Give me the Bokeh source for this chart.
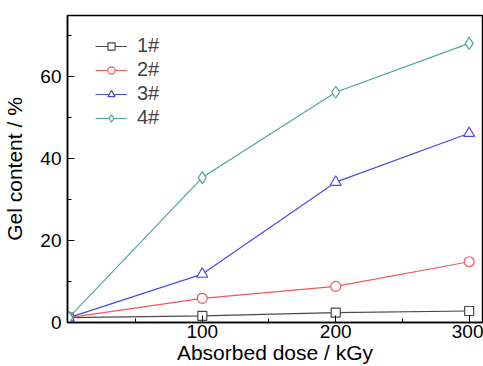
from bokeh.plotting import figure
from bokeh.embed import file_html
from bokeh.resources import INLINE
from bokeh.models import Range1d, FixedTicker, Legend, LegendItem

dose = [0, 100, 200, 300]
s1 = [1.2, 1.6, 2.4, 2.8]
s2 = [1.2, 5.9, 8.8, 14.8]
s3 = [1.2, 11.8, 34.2, 46.1]
s4 = [1.2, 35.3, 56.1, 68.0]
series_names = ["1#", "2#", "3#", "4#"]
x_ticks = [100, 200, 300]
y_ticks = [0, 20, 40, 60]

FONT = "Liberation Sans"

p = figure(width=483, height=366, output_backend="svg", toolbar_location=None,
           x_range=Range1d(-1, 310), y_range=Range1d(0, 74.8),
           min_border_left=67, min_border_right=1, min_border_top=15, min_border_bottom=44)
p.background_fill_color = "white"
p.border_fill_color = "white"
p.outline_line_color = "black"
p.outline_line_width = 1.5
p.grid.visible = False

for ax in (p.xaxis[0], p.yaxis[0]):
    ax.axis_line_color = "black"
    ax.axis_line_width = 1.5
    ax.major_tick_in = 7
    ax.major_tick_out = 0
    ax.minor_tick_in = 4
    ax.minor_tick_out = 0
    ax.major_tick_line_color = "black"
    ax.minor_tick_line_color = "black"
    ax.major_label_text_font = FONT
    ax.major_label_text_font_size = "19px"
    ax.major_label_text_color = "black"
    ax.axis_label_text_font = FONT
    ax.axis_label_text_font_size = "21px"
    ax.axis_label_text_font_style = "normal"
    ax.axis_label_text_color = "black"

p.xaxis.ticker = FixedTicker(ticks=x_ticks, minor_ticks=[50, 150, 250])
p.yaxis.ticker = FixedTicker(ticks=y_ticks, minor_ticks=[10, 30, 50, 70])
p.xaxis.axis_label = "Absorbed dose / kGy"
p.yaxis.axis_label = "Gel content / %"
p.xaxis.major_label_standoff = 2
p.xaxis.axis_label_standoff = 0
p.yaxis.major_label_standoff = 6
p.yaxis.axis_label_standoff = 11

colors = ["#484848", "#ee5a5a", "#4a4ae0", "#4aa6a0"]
markers = ["square", "circle", "triangle", "diamond"]
sizes = [9, 10, 11, 12]
data = [s1, s2, s3, s4]

items = []
for name, ys, c, m, sz in zip(series_names, data, colors, markers, sizes):
    r1 = p.line(dose, ys, line_color=c, line_width=1.2)
    r2 = p.scatter(dose, ys, marker=m, size=sz, line_color=c, fill_color="white", line_width=1.2)
    items.append(LegendItem(label=name, renderers=[r1, r2]))

legend = Legend(items=items, location=(28, 193), border_line_color=None,
                background_fill_alpha=0, glyph_width=32, glyph_height=18,
                label_height=18, spacing=1, padding=0, margin=0, label_standoff=10,
                label_text_font=FONT, label_text_font_size="20px")
p.add_layout(legend)

open("out.html", "w").write(file_html(p, INLINE))
